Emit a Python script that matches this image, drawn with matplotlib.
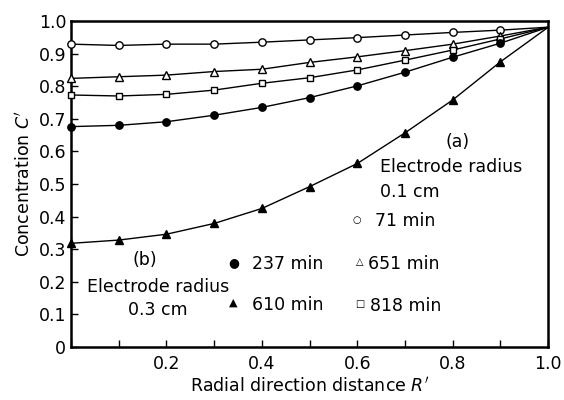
import numpy as np
import matplotlib
matplotlib.use("Agg")
import matplotlib.pyplot as plt

# radial distance R'
r = [0.0, 0.1, 0.2, 0.3, 0.4, 0.5, 0.6, 0.7, 0.8, 0.9, 1.0]

# (a) electrode radius 0.1 cm
c_71 = [0.929, 0.925, 0.929, 0.929, 0.935, 0.942, 0.949, 0.957, 0.965, 0.972, 0.981]
c_651 = [0.824, 0.829, 0.834, 0.845, 0.852, 0.873, 0.890, 0.909, 0.929, 0.954, 0.981]
c_818 = [0.773, 0.770, 0.775, 0.788, 0.809, 0.826, 0.850, 0.880, 0.911, 0.945, 0.981]
# (b) electrode radius 0.3 cm
c_237 = [0.676, 0.680, 0.691, 0.711, 0.735, 0.765, 0.801, 0.843, 0.889, 0.932, 0.981]
c_610 = [0.318, 0.328, 0.346, 0.379, 0.425, 0.492, 0.563, 0.657, 0.758, 0.875, 0.981]

x_ticks = [0.2, 0.4, 0.6, 0.8, 1.0]
y_ticks = [0, 0.1, 0.2, 0.3, 0.4, 0.5, 0.6, 0.7, 0.8, 0.9, 1.0]
y_labels = ["0", "0.1", "0.2", "0.3", "0.4", "0.5", "0.6", "0.7", "0.8", "0.9", "1.0"]

plt.rcParams['font.family'] = ['DejaVu Sans']

fig = plt.figure(figsize=(5.64, 4.0), dpi=100)
ax = fig.add_axes([0.126, 0.1325, 0.846, 0.815])

series = [
    (c_71, 'o', 'white'),
    (c_651, '^', 'white'),
    (c_818, 's', 'white'),
    (c_237, 'o', 'black'),
    (c_610, '^', 'black'),
]
for vals, mk, fc in series:
    ax.plot(r, vals, color='black', lw=1.0, clip_on=False, zorder=3)
    # markers on all points except the common end point at R'=1
    ax.plot(r[:-1], vals[:-1], ls='none', marker=mk, ms=5.3 if mk != 's' else 4.8,
            mfc=fc, mec='black', mew=1.0, clip_on=False, zorder=4)

ax.set_xlim(0, 1.0)
ax.set_ylim(0, 1.0)
ax.set_xticks(np.arange(0, 1.01, 0.1), minor=True)
ax.set_xticks(x_ticks)
ax.set_xticklabels(["0.2", "0.4", "0.6", "0.8", "1.0"])
ax.set_yticks(y_ticks)
ax.set_yticklabels(y_labels)
ax.tick_params(which='both', direction='in', length=5, width=1, labelsize=12.5)
ax.tick_params(axis='x', pad=6)
for s in ax.spines.values():
    s.set_linewidth(1.8)

ax.set_xlabel("Radial direction distance $R'$", fontsize=12.5, labelpad=2)
ax.set_ylabel("Concentration $C'$", fontsize=12.5, labelpad=4)

fs = 12.5
ax.text(0.809, 0.630, "(a)", fontsize=fs, ha='center', va='center')
ax.text(0.648, 0.553, "Electrode radius", fontsize=fs, ha='left', va='center')
ax.text(0.648, 0.475, "0.1 cm", fontsize=fs, ha='left', va='center')
ax.text(0.599, 0.390, "○", fontsize=7, ha='center', va='center')
ax.text(0.637, 0.385, "71 min", fontsize=fs, ha='left', va='center')
ax.text(0.606, 0.261, "△", fontsize=7, ha='center', va='center')
ax.text(0.623, 0.256, "651 min", fontsize=fs, ha='left', va='center')
ax.text(0.606, 0.132, "□", fontsize=7, ha='center', va='center')
ax.text(0.627, 0.125, "818 min", fontsize=fs, ha='left', va='center')

ax.text(0.340, 0.258, "●", fontsize=9, ha='center', va='center')
ax.text(0.379, 0.256, "237 min", fontsize=fs, ha='left', va='center')
ax.text(0.340, 0.135, "▲", fontsize=8, ha='center', va='center')
ax.text(0.379, 0.128, "610 min", fontsize=fs, ha='left', va='center')
ax.text(0.155, 0.267, "(b)", fontsize=fs, ha='center', va='center')
ax.text(0.033, 0.185, "Electrode radius", fontsize=fs, ha='left', va='center')
ax.text(0.182, 0.113, "0.3 cm", fontsize=fs, ha='center', va='center')

fig.savefig("out.png", dpi=100)
